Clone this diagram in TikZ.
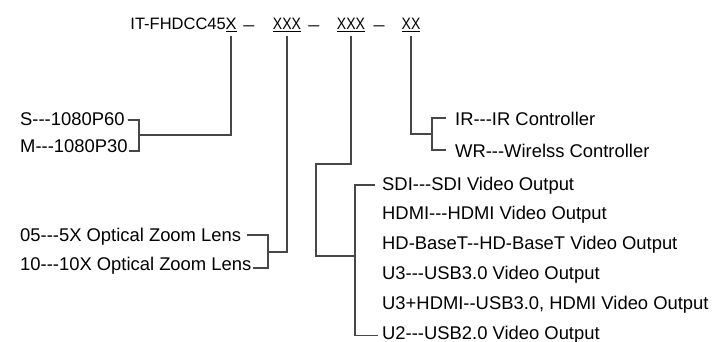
\documentclass[tikz,border=0pt]{standalone}
\usepackage{fontspec}
\setmainfont{Liberation Sans}[Ligatures=TeXOff]
\newcommand\slim[1]{\scalebox{0.85}[1]{#1}}

\begin{document}
\begin{tikzpicture}[
  x=1pt, y=-1pt,
  head/.style={inner sep=0pt, font=\fontsize{16.5}{18}\selectfont},
  code/.style={head, anchor=base, outer sep=4pt},
  sep/.style={head, anchor=base},
  item/.style={anchor=base west, inner sep=0pt, font=\fontsize{18.4}{20}\selectfont},
  wire/.style={draw=black!72, line width=1.1pt}]
  \useasboundingbox (0,0) rectangle (714,342);

  \node[head, anchor=base east] (model) at (226,30) {IT-FHDCC45};
  \node[code] (c1) at (231,30) {\underline{X}};
  \node[sep] (d1) at (249,31) {\scalebox{1.2}[1]{–}};
  \node[code] (c2) at (287,30) {\underline{\slim{XXX}}};
  \node[sep] (d2) at (314,31) {\scalebox{1.2}[1]{–}};
  \node[code] (c3) at (351,30) {\underline{\slim{XXX}}};
  \node[sep] (d3) at (379,31) {\scalebox{1.2}[1]{–}};
  \node[code] (c4) at (411,30) {\underline{\slim{XX}}};

  \node[item] (s60) at (20,125) {S---1080P60};
  \node[item] (m30) at (20,152) {M---1080P30};
  \node[item] (z05) at (20,241) {05---5X Optical Zoom Lens};
  \node[item] (z10) at (20,270) {10---10X Optical Zoom Lens};
  \node[item] (ir) at (455,125) {IR---IR Controller};
  \node[item] (wr) at (455,157) {WR---Wirelss Controller};
  \node[item] (sdi) at (382,190) {SDI---SDI Video Output};
  \node[item] (hdmi) at ([yshift=-29.8pt]sdi.base west) {HDMI---HDMI Video Output};
  \node[item] (hdbt) at ([yshift=-29.8pt]hdmi.base west) {HD-BaseT--HD-BaseT Video Output};
  \node[item] (u3) at ([yshift=-29.8pt]hdbt.base west) {U3---USB3.0 Video Output};
  \node[item] (u3h) at ([yshift=-29.8pt]u3.base west) {U3+HDMI--USB3.0, HDMI Video Output};
  \node[item] (u2) at ([yshift=-29.8pt]u3h.base west) {U2---USB2.0 Video Output};

  \coordinate (jSM) at (139,135);
  \coordinate (jZ) at (268,252);
  \coordinate (k3) at (316,164);
  \coordinate (jV) at (355,256);
  \coordinate (jC) at (432,134);

  \draw[wire] (c1.south) |- (jSM);
  \draw[wire] ([xshift=3pt,yshift=5pt]s60.base east) -| (jSM) |- ([xshift=1pt,yshift=1pt]m30.base east);
  \draw[wire] (c2.south) |- (jZ);
  \draw[wire] ([xshift=6pt,yshift=6pt]z05.base east) -| (jZ) |- ([xshift=1pt,yshift=2pt]z10.base east);
  \draw[wire] (c3.south) |- (k3) |- (jV);
  \draw[wire] ([xshift=-7pt,yshift=5pt]sdi.base west) -| (jV) |- ([xshift=-4pt,yshift=3.5pt]u2.base west);
  \draw[wire] (c4.south) |- (jC);
  \draw[wire] ([xshift=-9pt,yshift=7pt]ir.base west) -| (jC) |- ([xshift=-9pt,yshift=7pt]wr.base west);
\end{tikzpicture}
\end{document}
